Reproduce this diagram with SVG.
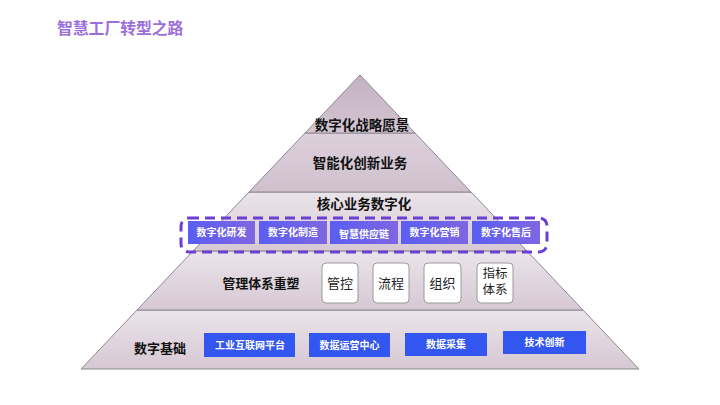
<svg xmlns="http://www.w3.org/2000/svg" width="720" height="405" viewBox="0 0 720 405">
<defs>
<linearGradient id="gLayer" x1="0" y1="0" x2="0" y2="1">
<stop offset="0" stop-color="#ebe4ea"/>
<stop offset="1" stop-color="#d6c8d4"/>
</linearGradient>
<linearGradient id="gApex" x1="0" y1="0" x2="0" y2="1">
<stop offset="0" stop-color="#c4b1c2"/>
<stop offset="1" stop-color="#d4c5d2"/>
</linearGradient>
<linearGradient id="gMid" x1="0" y1="0" x2="0" y2="1">
<stop offset="0" stop-color="#dcd0db"/>
<stop offset="1" stop-color="#d0c0ce"/>
</linearGradient>
<linearGradient id="gCore" x1="0" y1="0" x2="1" y2="0">
<stop offset="0" stop-color="#5a5ef2"/>
<stop offset="1" stop-color="#7e66e2"/>
</linearGradient>
</defs>
<style>
.layer{stroke:#8c8890;stroke-width:1}
.t{font-family:"Noto Sans CJK SC","Noto Sans CJK JP",sans-serif;font-weight:bold;text-anchor:middle;fill:#111}
.lvl{font-size:13.5px}
.core rect{fill:url(#gCore)}
.core text,.base text{font-family:"Noto Sans CJK SC",sans-serif;font-weight:bold;font-size:10px;fill:#fff;text-anchor:middle}
.base rect{fill:#3256ef}
.mg rect{fill:#fff;stroke:#9a9a9a;stroke-width:1}
.mg text{font-family:"Noto Sans CJK SC",sans-serif;font-size:13px;fill:#222;text-anchor:middle}
.mg text.two{font-family:"Liberation Sans","Noto Sans CJK SC",sans-serif;font-size:12.5px}
</style>
<rect width="720" height="405" fill="#ffffff"/>
<text x="57" y="34" font-family="Noto Sans CJK SC, sans-serif" font-weight="bold" font-size="15.8" fill="#9a6fdc">智慧工厂转型之路</text>

<g id="layer-base">
<polygon class="layer" points="137,310 583,310 639,369 81,369" fill="url(#gLayer)"/>
<text class="t" x="160" y="353" font-size="13">数字基础</text>
</g>
<g id="layer-mgmt">
<polygon class="layer" points="193,251 527,251 583,310 137,310" fill="url(#gLayer)"/>
<text class="t" x="261" y="287.5" font-size="12.8">管理体系重塑</text>
</g>
<g id="layer-core">
<polygon class="layer" points="249,192 471,192 527,251 193,251" fill="url(#gLayer)"/>
<text class="t lvl" x="364" y="209">核心业务数字化</text>
</g>
<g id="layer-innov">
<polygon class="layer" points="305,133 415,133 471,192 249,192" fill="url(#gMid)"/>
<text class="t lvl" x="360" y="168">智能化创新业务</text>
</g>
<g id="layer-vision">
<polygon class="layer" points="360,75 415,133 305,133" fill="url(#gApex)"/>
<text class="t lvl" x="362" y="130">数字化战略愿景</text>
</g>

<g id="core-group">
<rect x="181" y="218" width="366" height="34" rx="8" fill="none" stroke="#6a3fd2" stroke-width="3" stroke-dasharray="10 6"/>
</g>
<g id="core-rd" class="core"><rect x="188" y="221" width="67" height="23"/><text x="221.5" y="236">数字化研发</text></g>
<g id="core-mfg" class="core"><rect x="259" y="221" width="68" height="23"/><text x="293" y="236">数字化制造</text></g>
<g id="core-scm" class="core"><rect x="330" y="221" width="68" height="23"/><text x="364" y="238">智慧供应链</text></g>
<g id="core-mkt" class="core"><rect x="401" y="221" width="67" height="23"/><text x="434.5" y="236">数字化营销</text></g>
<g id="core-svc" class="core"><rect x="472" y="221" width="68" height="23"/><text x="506" y="236">数字化售后</text></g>

<g id="mg-control" class="mg"><rect x="322" y="263" width="36" height="40" rx="4"/><text x="340" y="287.5">管控</text></g>
<g id="mg-process" class="mg"><rect x="373" y="263" width="36" height="40" rx="4"/><text x="391" y="287.5">流程</text></g>
<g id="mg-org" class="mg"><rect x="424" y="263" width="37" height="40" rx="4"/><text x="442.5" y="287.5">组织</text></g>
<g id="mg-kpi" class="mg"><rect x="477" y="263" width="36" height="40" rx="4"/><text class="two" x="495" y="277.5">指标</text><text class="two" x="495" y="294">体系</text></g>

<g id="base-iiot" class="base"><rect x="204" y="333" width="91" height="24"/><text x="250" y="348.5">工业互联网平台</text></g>
<g id="base-ops" class="base"><rect x="309" y="333" width="81" height="24"/><text x="349.5" y="348.5">数据运营中心</text></g>
<g id="base-collect" class="base"><rect x="405" y="333" width="82" height="23"/><text x="446" y="348">数据采集</text></g>
<g id="base-tech" class="base"><rect x="503" y="331" width="83" height="23"/><text x="544.5" y="346">技术创新</text></g>
</svg>
